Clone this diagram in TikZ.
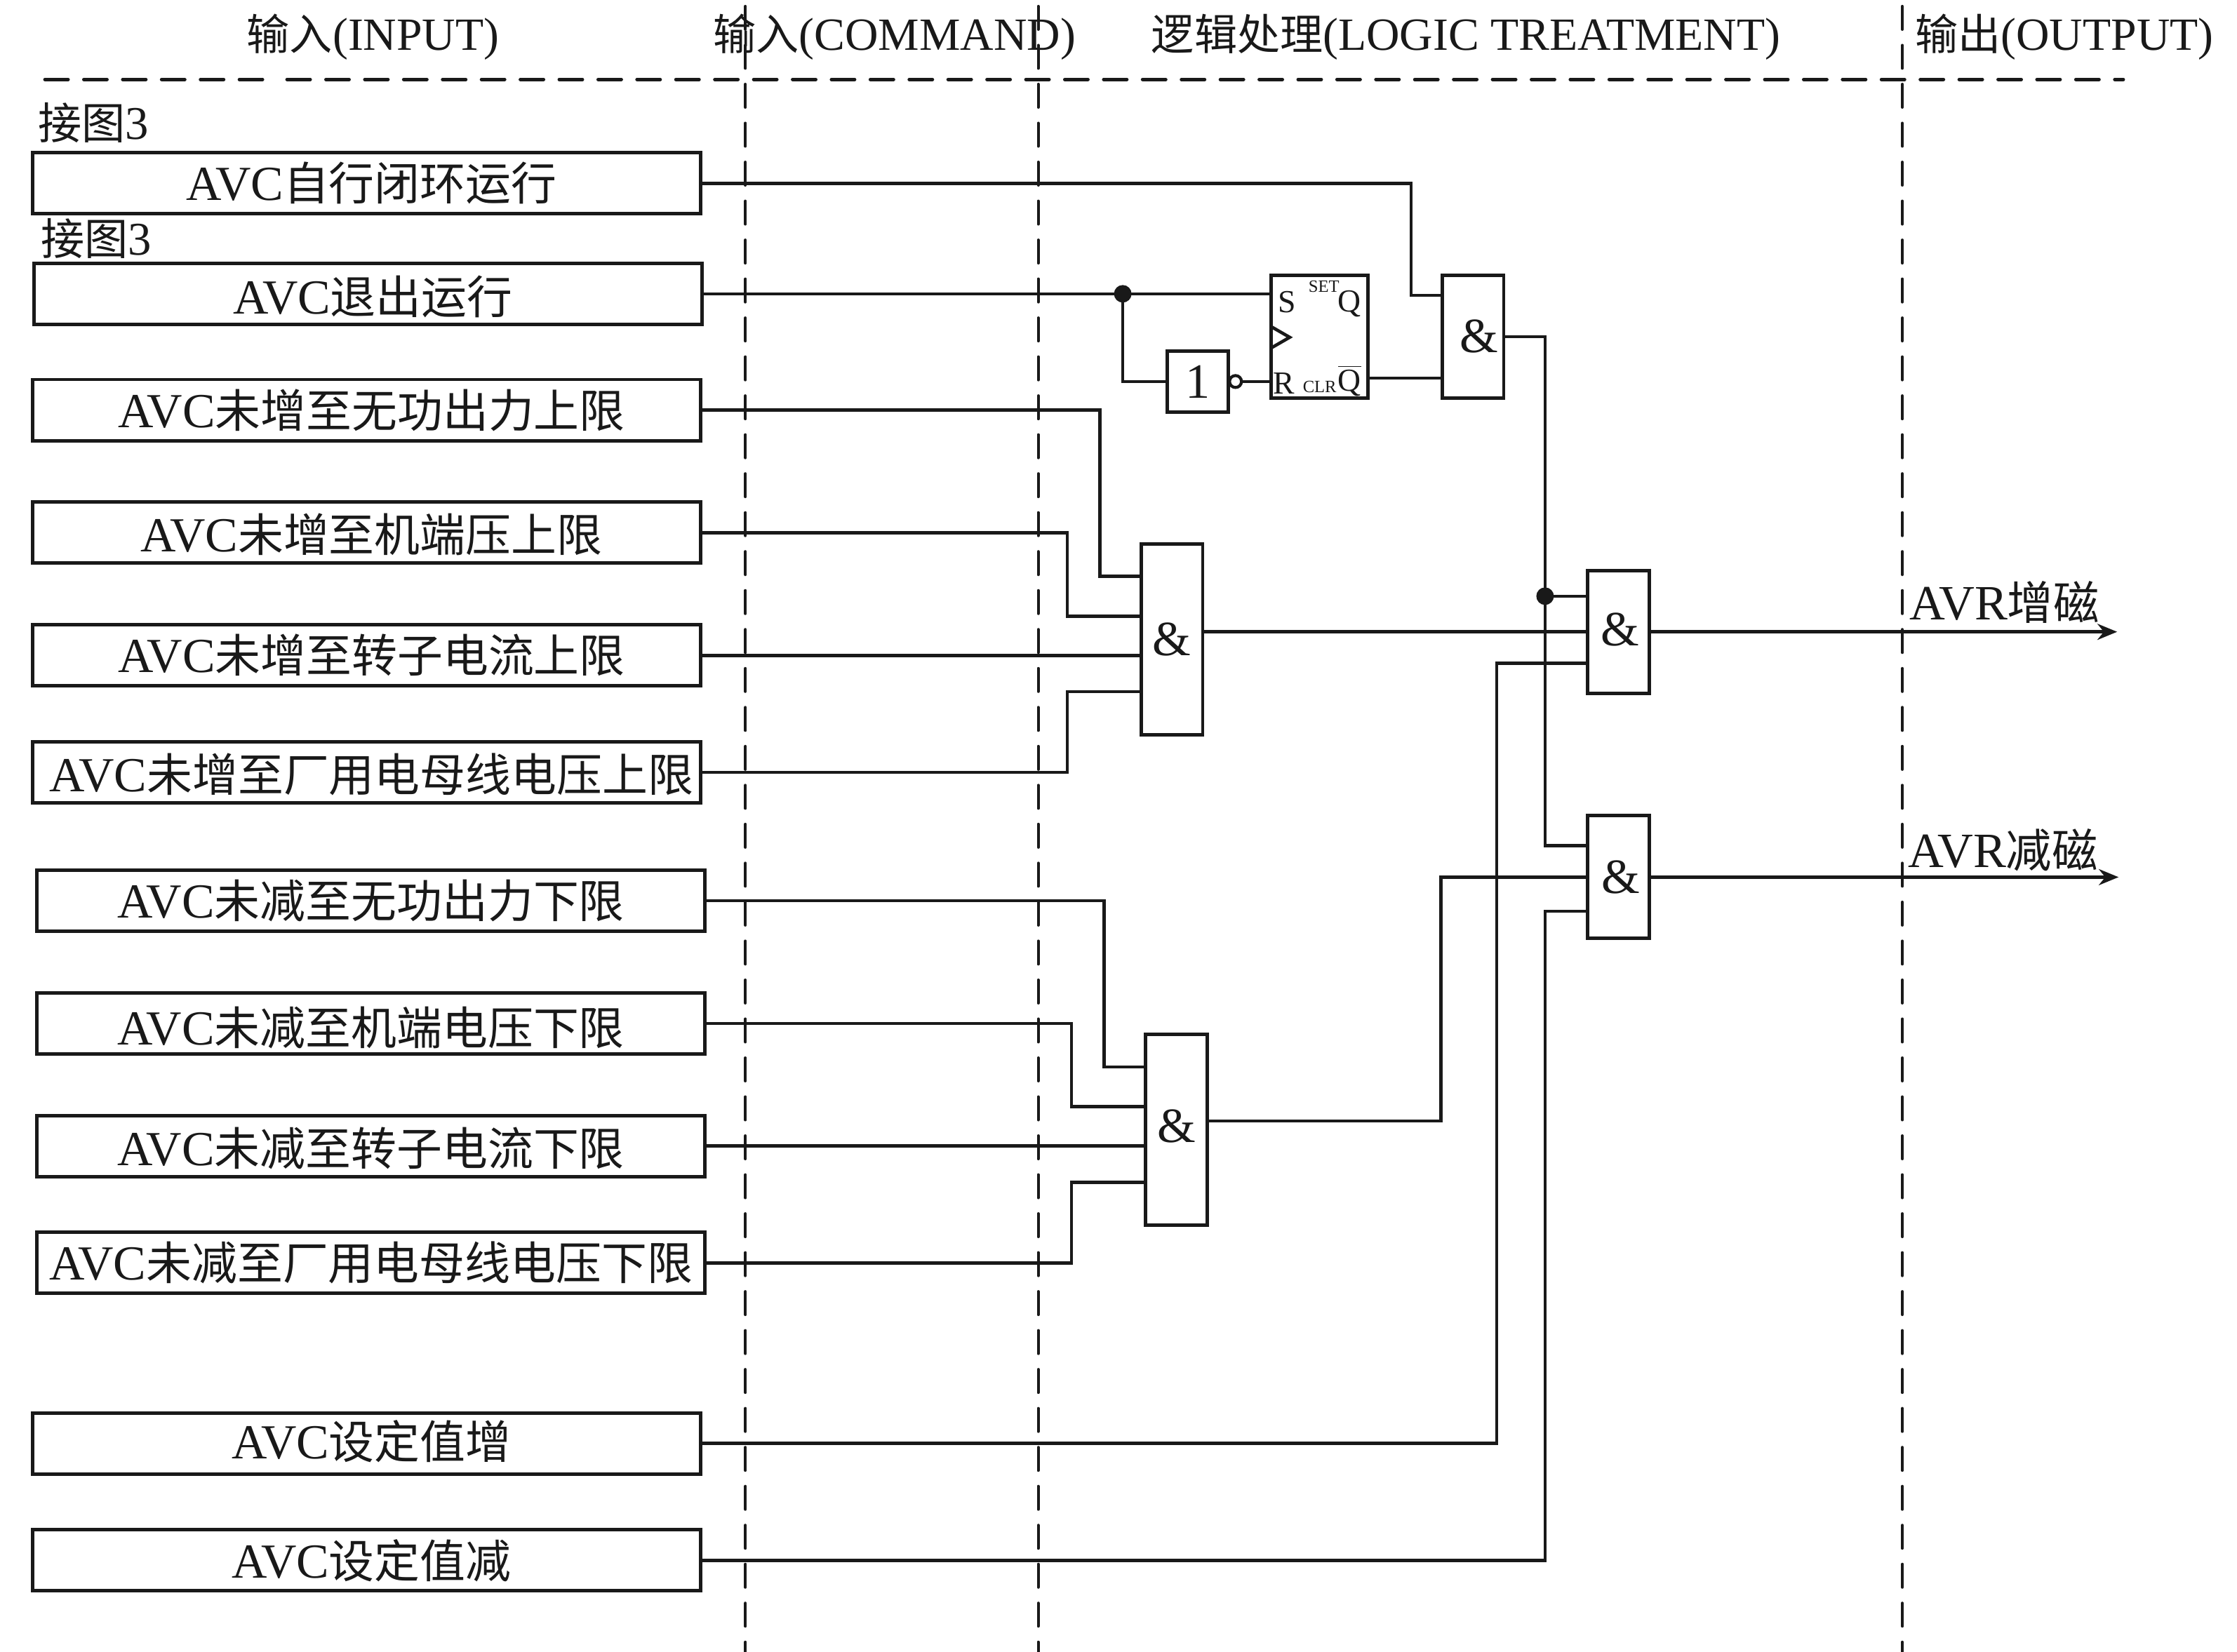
\documentclass[tikz,border=0pt]{standalone}
\usepackage{fontspec}
\setmainfont{Liberation Serif}
\newfontfamily\cjkf[Scale=0.93]{Noto Sans CJK SC}
\newcommand{\zh}[1]{{\cjkf #1}}
\newcommand{\drop}[2]{\raisebox{#1}[\height][\depth]{#2}}
\usetikzlibrary{arrows.meta}
\colorlet{ink}{black!90}
\tikzset{
  inbox/.style={draw=ink,line width=1.4pt,fill=white,minimum width=9.52cm,minimum height=0.87cm,inner sep=0pt,outer sep=0pt,font=\fontsize{19.85}{22}\selectfont,text=ink},
  gatetall/.style={draw=ink,line width=1.4pt,fill=white,minimum width=0.875cm,minimum height=2.72cm,inner sep=0pt,outer sep=0pt,font=\fontsize{20}{22}\selectfont,text=ink},
  gateshort/.style={draw=ink,line width=1.4pt,fill=white,minimum width=0.875cm,minimum height=1.75cm,inner sep=0pt,outer sep=0pt,font=\fontsize{20}{22}\selectfont,text=ink},
  notbox/.style={draw=ink,line width=1.4pt,fill=white,minimum width=0.875cm,minimum height=0.875cm,inner sep=0pt,outer sep=0pt,font=\fontsize{20}{22}\selectfont,text=ink},
  ffbox/.style={draw=ink,line width=1.4pt,fill=white,minimum width=1.38cm,minimum height=1.75cm,inner sep=0pt,outer sep=0pt},
  bubble/.style={circle,draw=ink,line width=1.2pt,fill=white,minimum size=0.17cm,inner sep=0pt,outer sep=0pt},
  jdot/.style={circle,fill=ink,minimum size=0.25cm,inner sep=0pt,outer sep=0pt},
  wire/.style={draw=ink,line width=1.3pt,line join=miter},
  outwire/.style={wire,-{Stealth[length=8pt,width=6.5pt]}},
  lane/.style={draw=ink,line width=1.15pt,line cap=round,dash pattern=on 0.33cm off 0.225cm},
  headline/.style={draw=ink,line width=1.4pt,line cap=round,dash pattern=on 0.33cm off 0.224cm},
  lab/.style={inner sep=0pt,outer sep=0pt,font=\fontsize{20}{22}\selectfont,text=ink},
  headlab/.style={inner sep=0pt,outer sep=0pt,font=\fontsize{18.7}{22}\selectfont,text=ink},
  notelab/.style={inner sep=0pt,outer sep=0pt,font=\fontsize{19}{22}\selectfont,text=ink},
  fflab/.style={inner sep=0pt,outer sep=0pt,font=\fontsize{13}{14}\selectfont,text=ink},
  fftiny/.style={inner sep=0pt,outer sep=0pt,font=\fontsize{7}{8}\selectfont,text=ink}
}
\begin{document}
\begin{tikzpicture}[x=0.0203316cm,y=-0.0203316cm]
\useasboundingbox (0,0) rectangle (1568,1158);
% lanes
\coordinate (v1t) at (522.5,4.4); \coordinate (v1b) at (522.5,1172);
\coordinate (v2t) at (727.7,4.4); \coordinate (v2b) at (727.7,1172);
\coordinate (v3t) at (1333.4,4.4); \coordinate (v3b) at (1333.4,1172);
\coordinate (hl) at (31.5,55.7); \coordinate (hm1) at (184,55.7);
\coordinate (hm2) at (201.2,55.7); \coordinate (hr) at (1488.3,55.7);
\draw[lane] (v1t) -- (v1b);
\draw[lane] (v2t) -- (v2b);
\draw[lane] (v3t) -- (v3b);
\draw[headline] (hl) -- (hm1);
\draw[headline] (hm2) -- (hr);
% headers
\node[headlab] (h1) at (261.5,26) {\zh{输入}(INPUT)};
\node[headlab] (h2) at (627,26) {\zh{输入}(COMMAND)};
\node[headlab] (h3) at (1027.5,26) {\zh{逻辑处理}(LOGIC TREATMENT)};
\node[headlab] (h4) at (1447,26) {\zh{输出}(OUTPUT)};
\node[notelab] (n1) at (65.5,86) {\zh{接图}3};
\node[notelab] (n2) at (67.5,167) {\zh{接图}3};
% inputs
\node[inbox] (i1) at (257,128.5) {\hspace*{4pt}AVC\zh{自行闭环运行}};
\node[inbox] (i2) at (258,206) {\drop{-1.2pt}{\hspace*{4pt}AVC\zh{退出运行}}};
\node[inbox] (i3) at (257,287.5) {\hspace*{4pt}AVC\zh{未增至无功出力上限}};
\node[inbox] (i4) at (257,373.5) {\drop{-0.6pt}{\hspace*{4pt}AVC\zh{未增至机端压上限}}};
\node[inbox] (i5) at (257,459.5) {\hspace*{4pt}AVC\zh{未增至转子电流上限}};
\node[inbox] (i6) at (257,541.5) {\drop{-0.8pt}{\hspace*{4pt}AVC\zh{未增至厂用电母线电压上限}}};
\node[inbox] (i7) at (260,631.5) {AVC\zh{未减至无功出力下限}};
\node[inbox] (i8) at (260,717.5) {\drop{-1.7pt}{AVC\zh{未减至机端电压下限}}};
\node[inbox] (i9) at (260,803.5) {\drop{-0.8pt}{AVC\zh{未减至转子电流下限}}};
\node[inbox] (i10) at (260,885.5) {AVC\zh{未减至厂用电母线电压下限}};
\node[inbox] (i11) at (257,1012) {\drop{0.7pt}{\hspace*{4pt}AVC\zh{设定值增}}};
\node[inbox] (i12) at (257,1094) {\hspace*{4pt}AVC\zh{设定值减}};
% gates
\node[gatetall] (g1) at (821.5,448.5) {\&};
\node[gatetall] (g2) at (824.5,792) {\drop{1.5pt}{\&}};
\node[gateshort] (g3) at (1134.5,443) {\drop{1pt}{\hspace*{1.5pt}\&}};
\node[gateshort] (g4) at (1134.5,615) {\hspace*{2pt}\&};
\node[gateshort] (g5) at (1032.5,236) {\hspace*{5pt}\&};
\node[notbox] (nt) at (839.5,267.5) {1};
\node[bubble] (bb) at (866,267.5) {};
\node[ffbox] (ff) at (925,236) {};
\draw[draw=ink,line width=1.3pt,line join=miter] (891,229) coordinate (ck1) -- (904,236.5) coordinate (ck2) -- (891,244) coordinate (ck3);
\node[fflab] (ffs) at (902,212) {S};
\node[fflab] (ffq) at (946,213) {Q};
\node[fftiny] (ffset) at (928,201) {SET};
\node[fflab] (ffr) at (900,269) {R};
\node[fftiny] (ffclr) at (925,271) {CLR};
\node[fflab] (ffnq) at (946,267) {$\overline{\mbox{Q}}$};
% junctions
\coordinate (j1) at (787,0 |- i2.east);
\coordinate (j2) at (1083,418);
% wires
\draw[wire] (i1.east) -| (989,207) -- (g5.west |- 989,207);
\draw[wire] (i2.east) -- (ff.west |- i2.east);
\draw[wire] (j1) |- (nt.west);
\draw[wire] (bb.east) -- (ff.west |- bb.east);
\draw[wire] (ff.east |- 0,265) -- (g5.west |- 0,265);
\draw[wire] (g5.east) -| (1083,593) -- (g4.west |- 0,593);
\draw[wire] (j2) -- (g3.west |- j2);
\draw[wire] (i3.east) -| (771,404) -- (g1.west |- 0,404);
\draw[wire] (i4.east) -| (748,432) -- (g1.west |- 0,432);
\draw[wire] (i5.east) -- (g1.west |- i5.east);
\draw[wire] (i6.east) -| (748,485) -- (g1.west |- 0,485);
\draw[wire] (i7.east) -| (774,748) -- (g2.west |- 0,748);
\draw[wire] (i8.east) -| (751,776) -- (g2.west |- 0,776);
\draw[wire] (i9.east) -- (g2.west |- i9.east);
\draw[wire] (i10.east) -| (751,829) -- (g2.west |- 0,829);
\draw[wire] (g1.east |- g3.west) -- (g3.west);
\draw[wire] (g2.east |- 0,786) -| (1010,615) -- (g4.west);
\draw[wire] (i11.east) -| (1049,465) -- (g3.west |- 0,465);
\draw[wire] (i12.east) -| (1083,639) -- (g4.west |- 0,639);
\coordinate (o1) at (1484,443);
\coordinate (o2) at (1485,615);
\draw[outwire] (g3.east) -- (o1);
\draw[outwire] (g4.east) -- (o2);
\node[jdot] at (j1) {};
\node[jdot] at (j2) {};
\node[lab] (l1) at (1405,422) {AVR\zh{增磁}};
\node[lab] (l2) at (1404,596) {AVR\zh{减磁}};
\end{tikzpicture}
\end{document}
